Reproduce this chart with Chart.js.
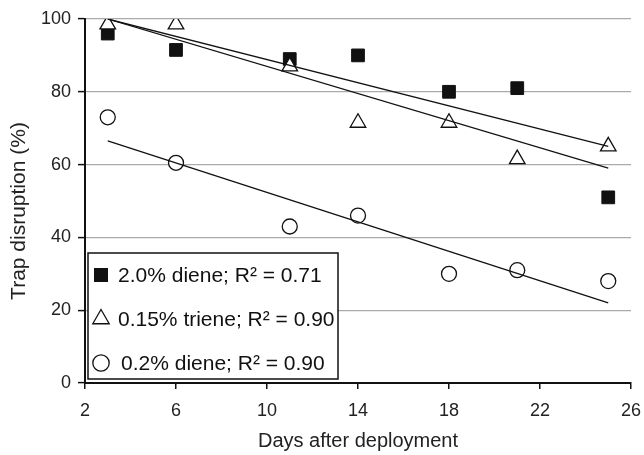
<!DOCTYPE html>
<html>
<head>
<meta charset="utf-8">
<script src="https://cdn.jsdelivr.net/npm/chart.js@4.4.0/dist/chart.umd.min.js"></script>
<style>
  html, body { margin: 0; padding: 0; background: #fff; }
  #wrap { width: 644px; height: 455px; }
</style>
</head>
<body>
<div id="wrap"><canvas id="trapChart" width="644" height="455"></canvas></div>
<script>
// datos
const days = [3, 6, 11, 14, 18, 21, 25];
const diene20 = [96, 91.5, 89, 90, 80, 81, 51];
const triene015 = [98.5, 98.5, 87, 71.5, 71.5, 61.5, 65];
const diene02 = [73, 60.5, 43, 46, 30, 31, 28];

// rectas de tendencia (extremos)
const trendDays = [3, 25];
const trend20 = [100, 65];
const trend015 = [100, 59];
const trend02 = [66.5, 22];

const xTicks = [2, 6, 10, 14, 18, 22, 26];
const yTicks = [0, 20, 40, 60, 80, 100];

const labels = [
    '2.0% diene; R\u00b2 = 0.71',
    '0.15% triene; R\u00b2 = 0.90',
    '0.2% diene; R\u00b2 = 0.90'
];
const yTitle = 'Trap disruption (%)';

const FONT = 'Arial, "Liberation Sans", sans-serif';

function toPoints(xs, ys) {
    return xs.map((x, i) => ({ x: x, y: ys[i] }));
}

function trendSet(ys) {
    return {
        type: 'line',
        data: toPoints(trendDays, ys),
        borderColor: '#111',
        borderWidth: 1.3,
        pointRadius: 0,
        showLine: true,
        fill: false,
        order: 0
    };
}

// titulo del eje Y (un poco por debajo del centro, como en la figura)
const yTitlePlugin = {
    id: 'yTitlePlugin',
    afterDraw(chart) {
        const ctx = chart.ctx;
        const area = chart.chartArea;
        ctx.save();
        ctx.translate(19, (area.top + area.bottom) / 2 + 10);
        ctx.rotate(-Math.PI / 2);
        ctx.font = '21px ' + FONT;
        ctx.fillStyle = '#222';
        ctx.textAlign = 'center';
        ctx.textBaseline = 'middle';
        ctx.fillText(yTitle, 0, 0);
        ctx.restore();
    }
};

// leyenda dibujada dentro del area del grafico
const legendBox = {
    id: 'legendBox',
    afterDraw(chart) {
        const ctx = chart.ctx;
        const area = chart.chartArea;
        const left = area.left + 3;
        const right = left + 250;
        const bottom = area.bottom - 4;
        const top = bottom - 126;
        ctx.save();
        ctx.fillStyle = '#fff';
        ctx.fillRect(left, top, right - left, bottom - top);
        ctx.strokeStyle = '#111';
        ctx.lineWidth = 1.5;
        ctx.strokeRect(left, top, right - left, bottom - top);

        const styles = ['rect', 'triangle', 'circle'];
        ctx.font = '21px ' + FONT;
        ctx.textBaseline = 'middle';
        styles.forEach((st, i) => {
            const cy = top + 22 + i * 44;
            const cx = left + 13;
            ctx.beginPath();
            ctx.lineWidth = 1.3;
            if (st === 'rect') {
                ctx.fillStyle = '#111';
                ctx.fillRect(cx - 7, cy - 7, 14, 14);
            } else if (st === 'triangle') {
                const r = 9.5;
                ctx.moveTo(cx, cy - r);
                ctx.lineTo(cx + r * Math.sin(Math.PI / 3), cy + r / 2);
                ctx.lineTo(cx - r * Math.sin(Math.PI / 3), cy + r / 2);
                ctx.closePath();
                ctx.fillStyle = '#fff';
                ctx.fill();
                ctx.stroke();
            } else {
                ctx.arc(cx, cy, 8.2, 0, Math.PI * 2);
                ctx.fillStyle = '#fff';
                ctx.fill();
                ctx.stroke();
            }
            ctx.fillStyle = '#111';
            ctx.fillText(labels[i], left + 30 + (i === 2 ? 3 : 0), cy + 1);
        });
        ctx.restore();
    }
};

const ctx = document.getElementById('trapChart').getContext('2d');
const chart = new Chart(ctx, {
    type: 'scatter',
    data: {
        datasets: [
            {
                label: labels[0],
                data: toPoints(days, diene20),
                pointStyle: 'rect',
                pointRadius: 9,
                backgroundColor: '#111',
                borderColor: '#111',
                borderWidth: 1,
                order: 2
            },
            {
                label: labels[1],
                data: toPoints(days, triene015),
                pointStyle: 'triangle',
                pointRadius: 9,
                backgroundColor: '#fff',
                borderColor: '#111',
                borderWidth: 1.3,
                order: 1
            },
            {
                label: labels[2],
                data: toPoints(days, diene02),
                pointStyle: 'circle',
                pointRadius: 7.5,
                backgroundColor: '#fff',
                borderColor: '#111',
                borderWidth: 1.3,
                order: 3
            },
            trendSet(trend20),
            trendSet(trend015),
            trendSet(trend02)
        ]
    },
    options: {
        responsive: false,
        devicePixelRatio: 1,
        animation: false,
        layout: { padding: { left: 0, right: 13, top: 19, bottom: 0 } },
        plugins: {
            legend: { display: false },
            tooltip: { enabled: false }
        },
        scales: {
            x: {
                type: 'linear',
                min: 2,
                max: 26,
                afterBuildTicks: (scale) => { scale.ticks = xTicks.map(v => ({ value: v })); },
                afterFit: (scale) => {
                    scale.height = 72;
                    // el padding de las etiquetas no debe encoger el area
                    scale.paddingLeft = 6;
                    scale.paddingRight = 10;
                },
                grid: {
                    drawOnChartArea: false,
                    drawTicks: true,
                    tickLength: 6,
                    tickColor: '#111',
                    lineWidth: 1.5
                },
                border: { display: true, color: '#111', width: 2 },
                ticks: {
                    autoSkip: false,
                    maxRotation: 0,
                    padding: 11,
                    color: '#222',
                    font: { family: FONT, size: 18 }
                },
                title: {
                    display: true,
                    text: 'Days after deployment',
                    color: '#222',
                    font: { family: FONT, size: 20 },
                    padding: { top: 0, bottom: 2 }
                }
            },
            y: {
                min: 0,
                max: 100,
                afterBuildTicks: (scale) => { scale.ticks = yTicks.map(v => ({ value: v })); },
                afterFit: (scale) => { scale.width = 85; },
                grid: {
                    color: (c) => (c.tick && c.tick.value === 0 ? 'rgba(0,0,0,0)' : '#aaaaaa'),
                    lineWidth: 1.2,
                    drawTicks: true,
                    tickLength: 7,
                    tickColor: '#111',
                    tickWidth: 1.5
                },
                border: { display: true, color: '#111', width: 2 },
                ticks: {
                    padding: 7,
                    color: '#222',
                    font: { family: FONT, size: 18 }
                },
                title: { display: false }
            }
        }
    },
    plugins: [legendBox, yTitlePlugin]
});
</script>
</body>
</html>
